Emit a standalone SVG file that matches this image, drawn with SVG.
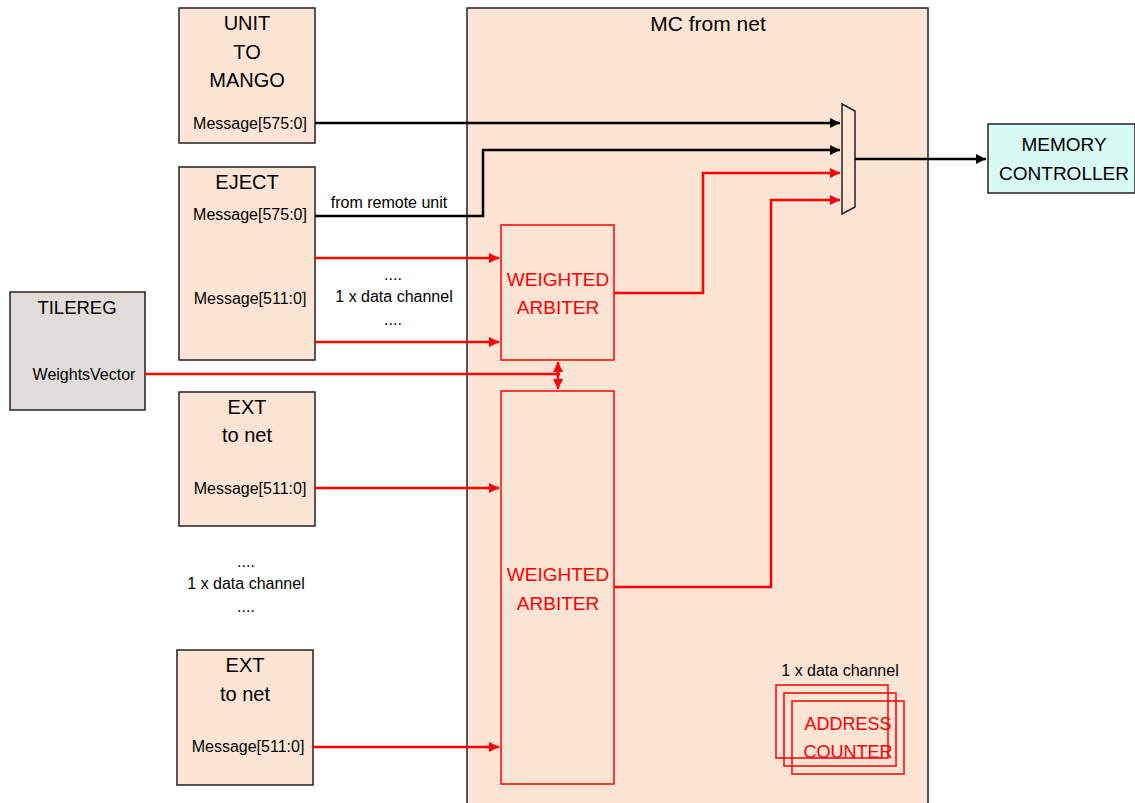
<svg xmlns="http://www.w3.org/2000/svg" width="1135" height="803" viewBox="0 0 1135 803">
<defs>
<style>
.box{fill:#fde4d4;stroke:#222;stroke-width:1.5}
.red{fill:none;stroke:#ff0000;stroke-width:1.5}
.t{font-family:"Liberation Sans",Arial,sans-serif;fill:#000;text-anchor:middle}
.big{font-size:20px}
.sm{font-size:16px}
.rt{fill:#ff0000;font-size:19px}
.bl{fill:none;stroke:#000;stroke-width:2.5}
.rl{fill:none;stroke:#ff0000;stroke-width:2.5}
</style>
<marker id="ab" viewBox="0 0 10 10" refX="10" refY="5" markerWidth="4" markerHeight="4" orient="auto"><path d="M0,0L10,5L0,10z" fill="#000"/></marker>
<marker id="ar" viewBox="0 0 10 10" refX="10" refY="5" markerWidth="4" markerHeight="4" orient="auto-start-reverse"><path d="M0,0L10,5L0,10z" fill="#ff0000"/></marker>
</defs>
<rect width="1135" height="803" fill="#fff"/>

<g id="mc">
<rect class="box" x="467" y="8" width="461" height="800"/>
<text class="t" style="font-size:21px" x="708" y="31">MC from net</text>
</g>

<g id="unit">
<rect class="box" x="179" y="8" width="136" height="135"/>
<text class="t big" x="247" y="30">UNIT</text>
<text class="t big" x="247" y="59">TO</text>
<text class="t big" x="247" y="87">MANGO</text>
<text class="t sm" x="250" y="129">Message[575:0]</text>
</g>

<g id="eject">
<rect class="box" x="179" y="167" width="136" height="193"/>
<text class="t big" x="247" y="189">EJECT</text>
<text class="t sm" x="250" y="220">Message[575:0]</text>
<text class="t sm" x="250" y="304">Message[511:0]</text>
</g>

<g id="tilereg">
<rect x="10" y="292" width="135" height="118" fill="#e0dcd9" stroke="#222" stroke-width="1.5"/>
<text class="t" style="font-size:18.5px" x="77" y="314">TILEREG</text>
<text class="t sm" x="84" y="380">WeightsVector</text>
</g>

<g id="ext1">
<rect class="box" x="179" y="392" width="136" height="134"/>
<text class="t big" x="247" y="414">EXT</text>
<text class="t big" x="247" y="442">to net</text>
<text class="t sm" x="250" y="494">Message[511:0]</text>
</g>

<g id="ext2">
<rect class="box" x="177" y="650" width="136" height="135"/>
<text class="t big" x="245" y="672">EXT</text>
<text class="t big" x="245" y="701">to net</text>
<text class="t sm" x="248" y="752">Message[511:0]</text>
</g>

<g id="arb1">
<rect class="red" x="501" y="225" width="113" height="135" fill="#fde4d4"/>
<text class="t rt" x="558" y="286">WEIGHTED</text>
<text class="t rt" x="558" y="314">ARBITER</text>
</g>

<g id="arb2">
<rect class="red" x="501" y="391" width="113" height="393" fill="#fde4d4"/>
<text class="t rt" x="558" y="581">WEIGHTED</text>
<text class="t rt" x="558" y="610">ARBITER</text>
</g>

<g id="mux">
<polygon points="842,104 855,111 855,207 842,214" fill="#fde4d4" stroke="#222" stroke-width="1.5"/>
</g>

<g id="memctrl">
<rect x="988" y="124" width="147" height="69" fill="#d8fbf4" stroke="#222" stroke-width="1.5"/>
<text class="t" style="font-size:19px" x="1064" y="151">MEMORY</text>
<text class="t" style="font-size:19px" x="1064" y="180">CONTROLLER</text>
</g>

<g id="addr">
<text class="t sm" x="840" y="676">1 x data channel</text>
<rect class="red" x="776" y="685" width="112" height="73" fill="#fde4d4"/>
<rect class="red" x="784" y="693" width="112" height="73" fill="#fde4d4"/>
<rect class="red" x="792" y="701" width="112" height="73" fill="#fde4d4"/>
<text class="t rt" style="font-size:18px" x="848" y="730">ADDRESS</text>
<text class="t rt" style="font-size:18px" x="848" y="758">COUNTER</text>
</g>

<g id="labels">
<text class="t sm" x="389" y="208">from remote unit</text>
<text class="t sm" x="393" y="280">....</text>
<text class="t sm" x="394" y="302">1 x data channel</text>
<text class="t sm" x="393" y="325">....</text>
<text class="t sm" x="246" y="567">....</text>
<text class="t sm" x="246" y="589">1 x data channel</text>
<text class="t sm" x="246" y="612">....</text>
</g>

<g id="connectors">
<path class="bl" d="M315,123H840" marker-end="url(#ab)"/>
<path class="bl" d="M315,216H483V150H840" marker-end="url(#ab)"/>
<path class="bl" d="M855,159H986" marker-end="url(#ab)"/>
<path class="rl" d="M315,258H499" marker-end="url(#ar)"/>
<path class="rl" d="M315,342H499" marker-end="url(#ar)"/>
<path class="rl" d="M315,488H499" marker-end="url(#ar)"/>
<path class="rl" d="M313,747H499" marker-end="url(#ar)"/>
<path class="rl" d="M614,293H703V173H840" marker-end="url(#ar)"/>
<path class="rl" d="M614,587H771V200H840" marker-end="url(#ar)"/>
<path class="rl" d="M145,374H560"/>
<path class="rl" d="M558,362V389" marker-start="url(#ar)" marker-end="url(#ar)"/>
</g>
</svg>
